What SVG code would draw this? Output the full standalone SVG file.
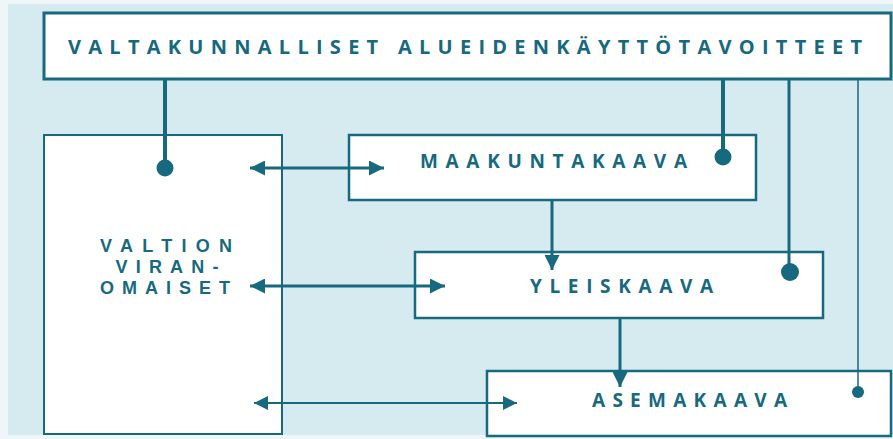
<svg xmlns="http://www.w3.org/2000/svg" width="893" height="439" viewBox="0 0 893 439">
<defs>
<style>
.box{fill:#fff;stroke:#17697f}
.t{font-family:"Open Sans","Liberation Sans",sans-serif;font-weight:bold;fill:#17697f}
.v{font-family:"Liberation Sans","Open Sans",sans-serif;font-weight:bold;fill:#17697f}
.c{stroke:#17697f;fill:none}
.dot{fill:#17697f}
</style>
<marker id="ah" viewBox="0 0 10 10" refX="10" refY="5" markerWidth="5" markerHeight="5" markerUnits="strokeWidth" orient="auto-start-reverse">
<path d="M0,0 L10,5 L0,10 z" fill="#17697f"/>
</marker>
<marker id="ahs" viewBox="0 0 10 10" refX="10" refY="5" markerWidth="7" markerHeight="7" markerUnits="strokeWidth" orient="auto-start-reverse">
<path d="M0,0 L10,5 L0,10 z" fill="#17697f"/>
</marker>
</defs>
<rect x="0" y="0" width="893" height="439" fill="#eef6f8"/>
<rect x="8" y="4" width="885" height="431" fill="#d6ebf0"/>
<g id="valtakunnalliset">
<rect class="box" x="44" y="13" width="847" height="66" stroke-width="3"/>
<text class="t" x="68" y="54" font-size="20" textLength="794" lengthAdjust="spacing">VALTAKUNNALLISET ALUEIDENKÄYTTÖTAVOITTEET</text>
</g>
<g id="valtion">
<rect class="box" x="44" y="135" width="238" height="299" stroke-width="2"/>
<text class="v" font-size="18" text-anchor="middle"><tspan x="166" y="252" textLength="132" lengthAdjust="spacing">VALTION</tspan><tspan x="167" y="273" textLength="103" lengthAdjust="spacing">VIRAN-</tspan><tspan x="165" y="294" textLength="130" lengthAdjust="spacing">OMAISET</tspan></text>
</g>
<g id="maakuntakaava">
<rect class="box" x="349" y="135" width="407" height="65" stroke-width="2.5"/>
<text class="t" x="420" y="168" font-size="19" textLength="267" lengthAdjust="spacing">MAAKUNTAKAAVA</text>
</g>
<g id="yleiskaava">
<rect class="box" x="415" y="252" width="408" height="66" stroke-width="2.5"/>
<text class="t" x="530" y="293" font-size="19" textLength="183" lengthAdjust="spacing">YLEISKAAVA</text>
</g>
<g id="asemakaava">
<rect class="box" x="487" y="371" width="404" height="65" stroke-width="2.5"/>
<text class="t" x="592" y="407" font-size="19" textLength="195" lengthAdjust="spacing">ASEMAKAAVA</text>
</g>
<g id="connectors">
<line class="c" x1="165" y1="79" x2="165" y2="168" stroke-width="4"/>
<circle class="dot" cx="165" cy="168" r="8.5"/>
<line class="c" x1="723" y1="79" x2="723" y2="157" stroke-width="4"/>
<circle class="dot" cx="723" cy="157" r="8.5"/>
<line class="c" x1="789" y1="79" x2="789" y2="272" stroke-width="3"/>
<circle class="dot" cx="790" cy="272" r="9"/>
<line class="c" x1="858" y1="79" x2="858" y2="392" stroke-width="1.5"/>
<circle class="dot" cx="858" cy="392" r="6"/>
<line class="c" x1="250" y1="168" x2="384" y2="168" stroke-width="3" marker-start="url(#ah)" marker-end="url(#ah)"/>
<line class="c" x1="250" y1="286" x2="445" y2="286" stroke-width="3" marker-start="url(#ah)" marker-end="url(#ah)"/>
<line class="c" x1="254" y1="403" x2="517" y2="403" stroke-width="2" marker-start="url(#ahs)" marker-end="url(#ahs)"/>
<line class="c" x1="552" y1="200" x2="552" y2="270" stroke-width="3" marker-end="url(#ah)"/>
<line class="c" x1="620" y1="318" x2="620" y2="387" stroke-width="3" marker-end="url(#ah)"/>
</g>
</svg>
